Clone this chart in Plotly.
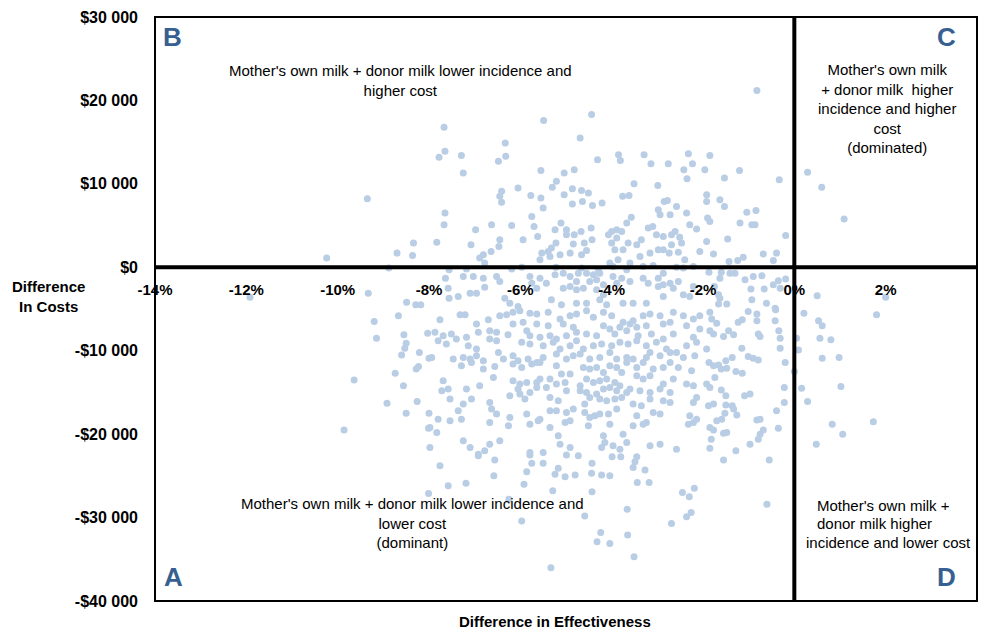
import plotly.graph_objects as go

# Difference in effectiveness (%) and difference in costs (thousand $)
pts_top = [(-7.67,16.8),(-7.65,13.9),(-7.78,13.2),(-7.29,13.4),(-6.48,12.7),(-6.33,14.9),(-6.32,13.3),(-5.49,17.6),(-4.44,18.3),(-4.69,15.5),(-4.31,12.9),(-3.85,13.5),(-3.81,12.8),(-3.29,13.5),(-3.14,12.4),(-2.76,12.4),(-2.32,13.6),(-2.23,12.4),(-0.82,21.2),(-1.85,13.4)]
pts_left = [(-9.35,8.2),(-10.24,1.1),(-8.70,1.7),(-8.34,2.9),(-8.36,1.4),(-8.88,-0.1),(-9.33,-3.1),(-11.92,-3.6),(-8.49,-4.2),(-8.29,-4.5),(-8.18,-4.5)]
pts_mid_upper = [(-7.25,11.3),(-5.55,11.6),(-5.04,11.3),(-4.82,11.7),(-2.42,11.7),(-2.35,10.6),(-7.65,6.5),(-7.67,5.1),(-7.83,3.0),(-6.41,9.1),(-6.45,8.5),(-6.41,7.8),(-6.05,9.5),(-5.77,8.6),(-5.55,8.3),(-5.21,10.3),(-5.30,9.6),(-5.04,8.7),(-4.86,9.4),(-4.66,9.2),(-4.51,8.9),(-4.86,7.6),(-4.64,7.9),(-4.42,7.4),(-4.21,7.7),(-3.76,8.5),(-3.62,8.6),(-3.51,10.0),(-2.99,9.8),(-2.85,7.9),(-2.78,8.0),(-2.58,7.3),(-2.98,6.9),(-2.72,6.3),(-2.94,6.3),(-2.36,6.5),(-2.29,5.1),(-2.14,4.6),(-3.57,6.0),(-3.67,5.3),(-5.50,7.1),(-5.75,6.1),(-5.70,4.9),(-5.62,3.7),(-5.94,3.3),(-6.19,5.0),(-6.63,5.1),(-6.98,4.5),(-7.08,2.7),(-6.45,3.3),(-6.47,2.5),(-6.64,1.9),(-6.81,1.5),(-6.89,1.1),(-6.78,0.5),(-5.24,4.5),(-5.11,5.3),(-4.99,4.5),(-4.99,3.9),(-4.82,3.9),(-4.67,4.3),(-4.45,4.7),(-4.43,3.3),(-4.60,2.9),(-4.84,2.8),(-5.22,2.9),(-5.32,2.3),(-5.39,1.9),(-5.53,1.7),(-5.57,0.9),(-5.35,1.3),(-5.13,1.5),(-4.91,1.7),(-4.66,1.5),(-4.55,2.0),(-4.00,4.3),(-4.07,3.9),(-3.89,4.5),(-3.78,4.3),(-3.89,3.5),(-4.00,2.9),(-3.93,2.1),(-3.75,2.1),(-3.64,2.9),(-3.45,2.7),(-3.35,3.3),(-3.20,4.7),(-3.10,4.9),(-3.02,3.9),(-2.87,3.7),(-2.69,3.9),(-2.61,4.3),(-2.51,3.6),(-2.47,2.9),(-2.69,2.7),(-2.74,1.7),(-2.54,1.8),(-2.87,2.1),(-2.98,2.1),(-3.16,1.7),(-3.38,1.3),(-3.60,0.5),(-3.86,0.9),(-4.04,0.5),(-2.40,0.9),(-2.21,0.1),(-2.07,1.9)]
pts_mid_axis = [(-7.56,-0.3),(-7.18,-0.2),(-6.19,-0.2),(-5.97,0.0),(-5.22,0.0),(-4.66,-0.1),(-4.29,-0.3),(-3.97,0.1),(-3.67,-0.3),(-3.31,0.1),(-3.09,0.2),(-2.87,-0.7),(-2.58,0.0),(-2.43,-0.1),(-7.64,-1.3),(-7.25,-1.1),(-7.03,-1.1),(-6.81,-1.3),(-6.52,-1.1),(-6.45,-1.7),(-6.78,-2.4),(-7.58,-2.5),(-7.10,-3.1),(-6.96,-3.1),(-7.36,-3.5),(-7.56,-3.7),(-5.79,-1.1),(-5.57,-1.3),(-5.43,-1.9),(-5.75,-1.9),(-5.64,-2.5),(-5.24,-0.9),(-5.06,-0.7),(-4.91,-1.1),(-4.73,-0.7),(-4.55,-0.7),(-4.40,-0.9),(-4.26,-0.7),(-4.48,-1.7),(-4.33,-1.5),(-4.77,-1.7),(-4.91,-2.3),(-5.06,-2.5),(-4.77,-2.7),(-4.62,-2.5),(-4.33,-2.7),(-4.18,-2.1),(-4.18,-3.3),(-3.97,-1.1),(-3.78,-1.3),(-3.60,-1.7),(-3.89,-1.9),(-3.31,-1.3),(-3.20,-1.9),(-2.98,-1.3),(-2.87,-2.1),(-2.72,-1.9),(-2.54,-1.7),(-2.98,-2.3),(-2.65,-2.5),(-2.87,-3.5),(-2.43,-3.3),(-2.29,-3.5),(-2.21,-2.3),(-6.34,-3.7),(-6.23,-4.3),(-6.05,-4.7),(-5.32,-3.9),(-5.10,-4.5),(-4.77,-4.3),(-4.55,-4.3),(-4.26,-3.9),(-4.11,-4.5),(-3.75,-4.3),(-3.53,-4.3),(-3.24,-4.3)]
pts_right_upper = [(-1.96,11.7),(-1.53,10.7),(-1.20,11.6),(-0.33,10.5),(0.29,11.4),(0.60,9.6),(1.09,5.8),(-1.92,8.7),(-1.92,7.9),(-1.63,8.1),(-1.53,7.3),(-1.04,6.6),(-0.84,6.8),(-1.90,5.9),(-1.85,5.5),(-1.19,5.3),(-0.93,5.1),(-0.86,5.1),(-0.19,3.8),(-1.46,3.4),(-1.92,3.1),(-1.77,1.6),(-0.68,1.6),(-0.39,1.7),(-1.12,1.2),(-1.24,0.8),(-1.43,0.7),(-0.46,0.8),(-1.87,-0.6),(-1.60,-0.6),(-1.63,-1.3),(-1.41,-0.7),(-1.30,-0.7),(-1.08,-1.5),(-0.90,-1.1),(-0.71,-1.0),(-0.35,-1.6),(-0.19,-1.4),(-0.46,-2.1),(-0.31,-2.5),(-1.75,-2.3),(-1.66,-3.3),(-1.63,-3.7),(-1.48,-4.4),(-1.66,-4.4),(-0.95,-2.6),(-0.66,-2.6),(-0.93,-3.9),(-0.61,-4.3),(-0.42,-4.9),(0.50,-3.4),(2.00,-3.6)]
pts_right_lower = [(0.21,-5.5),(1.80,-5.7),(0.53,-6.4),(0.61,-7.0),(0.05,-8.5),(0.56,-8.5),(0.80,-8.7),(0.09,-9.9),(0.61,-10.9),(0.98,-10.8),(0.0,-12.5),(0.16,-14.5),(1.02,-14.3),(0.29,-16.1),(0.83,-18.8),(1.73,-18.5),(1.06,-20.0),(0.48,-21.2),(-1.85,-5.4),(-1.01,-5.3),(-0.82,-5.6),(-0.41,-5.1),(-1.81,-6.2),(-1.70,-6.7),(-1.23,-6.6),(-1.14,-6.3),(-0.82,-6.4),(-0.42,-6.4),(-1.85,-7.6),(-1.77,-8.0),(-1.55,-8.3),(-1.44,-7.6),(-1.33,-8.1),(-0.79,-8.0),(-0.75,-8.3),(-0.34,-7.6),(-0.31,-8.5),(-1.92,-9.8),(-1.15,-9.7),(-0.31,-9.7),(-1.01,-10.7),(-0.90,-10.9),(-0.79,-11.1),(-1.50,-11.2),(-1.36,-10.8),(-0.20,-11.4),(-1.87,-11.4),(-1.77,-11.8),(-1.66,-11.7),(-1.60,-12.2),(-1.48,-12.1),(-1.28,-12.5),(-1.14,-12.7),(-1.74,-13.2),(-1.92,-14.0),(-1.85,-14.4),(-1.60,-14.7),(-1.50,-15.4),(-1.09,-15.4),(-0.97,-15.2),(-0.22,-14.4),(-0.22,-16.2),(-1.88,-16.6),(-1.77,-16.4),(-1.50,-16.5),(-1.36,-16.6),(-1.33,-17.0),(-1.26,-17.7),(-1.52,-17.5),(-1.59,-18.2),(-1.70,-18.4),(-0.39,-17.2),(-0.82,-18.3),(-0.75,-18.2),(-0.35,-19.3),(-0.68,-19.5),(-0.75,-20.0),(-0.79,-20.6),(-1.85,-19.2),(-1.77,-19.5),(-1.55,-19.9),(-1.48,-19.8),(-1.82,-20.6),(-1.85,-21.7),(-1.28,-22.0),(-0.97,-21.2),(-1.55,-23.1),(-0.55,-23.1),(-0.60,-28.4)]
pts_far_left_lower = [(-9.20,-6.5),(-8.67,-5.8),(-8.03,-7.9),(-9.15,-8.5),(-8.55,-8.1),(-8.50,-9.1),(-8.53,-9.7),(-8.60,-10.5),(-8.21,-10.2),(-8.00,-10.9),(-8.74,-12.7),(-8.23,-11.9),(-8.28,-12.2),(-9.64,-13.5),(-8.56,-14.2),(-8.26,-16.1),(-8.92,-16.3),(-8.50,-17.5),(-8.00,-17.5),(-8.01,-19.3),(-9.86,-19.5),(-7.98,-21.6),(-8.01,-27.1)]
pts_bottom = [(-6.92,-22.6),(-6.56,-23.1),(-7.76,-23.8),(-7.58,-26.2),(-7.19,-25.9),(-6.58,-25.0),(-5.75,-23.5),(-5.50,-23.5),(-5.86,-24.5),(-5.92,-26.0),(-5.17,-24.1),(-5.24,-24.8),(-5.02,-25.1),(-4.80,-24.9),(-4.99,-22.5),(-4.73,-22.6),(-4.43,-23.5),(-4.44,-24.7),(-4.22,-24.9),(-4.04,-25.0),(-3.99,-22.7),(-3.80,-22.7),(-3.49,-23.3),(-3.53,-24.0),(-3.27,-24.3),(-3.44,-25.8),(-3.18,-25.8),(-5.29,-26.8),(-4.43,-26.9),(-6.25,-27.8),(-4.59,-29.8),(-5.97,-30.4),(-3.66,-29.0),(-2.45,-27.0),(-2.30,-27.5),(-2.19,-26.5),(-2.26,-29.4),(-2.36,-29.9),(-2.69,-30.7),(-4.24,-31.8),(-4.32,-32.9),(-4.04,-33.1),(-3.65,-32.1),(-3.51,-34.7),(-5.33,-36.0),(-5.79,-22.5),(-3.45,-22.7)]
pts_core = [(-7.32,-5.7),(-7.21,-5.7),(-7.76,-6.3),(-6.96,-6.8),(-6.70,-6.3),(-6.45,-5.8),(-6.30,-5.7),(-6.16,-5.4),(-6.01,-5.2),(-5.79,-5.5),(-5.64,-5.6),(-5.39,-5.4),(-5.13,-6.2),(-4.91,-5.8),(-4.77,-5.6),(-4.55,-5.2),(-4.40,-6.0),(-4.18,-5.4),(-4.00,-5.8),(-3.75,-6.6),(-3.53,-6.4),(-3.31,-5.8),(-3.16,-5.6),(-2.94,-5.8),(-2.65,-5.4),(-2.43,-5.8),(-2.21,-6.2),(-2.07,-5.8),(-6.16,-6.8),(-5.94,-6.6),(-5.64,-6.8),(-5.39,-7.0),(-5.06,-6.8),(-4.84,-7.2),(-4.18,-7.0),(-4.04,-7.4),(-3.82,-7.2),(-3.60,-6.8),(-3.45,-7.2),(-3.24,-7.0),(-2.87,-6.8),(-2.72,-6.6),(-2.36,-7.0),(-2.07,-7.4),(-7.87,-7.8),(-7.69,-8.2),(-7.51,-8.0),(-7.40,-8.6),(-7.18,-8.4),(-6.92,-7.8),(-6.67,-7.6),(-6.52,-7.8),(-6.27,-8.1),(-5.86,-7.6),(-5.79,-8.2),(-5.57,-8.4),(-5.35,-8.2),(-5.21,-8.6),(-4.99,-8.2),(-4.77,-7.8),(-4.55,-8.0),(-4.33,-8.2),(-3.93,-8.0),(-3.67,-7.6),(-3.42,-8.2),(-3.13,-8.0),(-2.87,-8.6),(-2.65,-8.0),(-2.21,-8.4),(-7.80,-8.8),(-7.62,-9.2),(-7.14,-9.4),(-6.96,-9.8),(-6.67,-8.6),(-6.52,-8.8),(-5.97,-9.0),(-5.79,-9.2),(-5.50,-9.4),(-5.28,-9.0),(-5.13,-9.8),(-4.91,-9.4),(-4.77,-8.8),(-4.62,-9.8),(-4.40,-9.4),(-4.22,-9.2),(-4.00,-9.4),(-3.82,-9.0),(-3.64,-9.2),(-3.45,-8.8),(-3.24,-9.4),(-3.02,-9.0),(-2.80,-9.8),(-2.58,-10.2),(-2.36,-9.4),(-2.14,-9.0),(-7.94,-10.8),(-7.47,-11.0),(-7.25,-10.8),(-7.10,-11.0),(-6.96,-10.6),(-6.81,-11.2),(-6.48,-10.2),(-6.37,-11.0),(-6.16,-10.6),(-6.05,-11.2),(-5.83,-11.0),(-5.64,-11.4),(-5.50,-10.8),(-5.21,-10.4),(-4.99,-11.0),(-4.84,-10.6),(-4.69,-10.4),(-4.48,-11.0),(-4.26,-10.8),(-4.04,-10.2),(-3.89,-11.0),(-3.67,-10.8),(-3.53,-11.0),(-3.24,-10.8),(-3.16,-10.2),(-2.94,-10.6),(-2.72,-10.2),(-2.43,-10.8),(-2.18,-10.6),(-7.29,-11.8),(-7.07,-11.4),(-6.81,-12.2),(-6.56,-11.9),(-6.16,-11.6),(-5.97,-12.0),(-5.75,-11.6),(-5.57,-11.4),(-5.21,-11.8),(-5.10,-12.8),(-4.91,-12.8),(-4.62,-12.0),(-4.48,-12.2),(-4.33,-12.0),(-4.18,-12.6),(-4.04,-11.8),(-3.89,-12.0),(-3.78,-12.6),(-3.67,-11.4),(-3.45,-12.0),(-3.31,-11.4),(-3.09,-12.2),(-2.87,-12.0),(-2.72,-11.4),(-2.54,-12.0),(-2.25,-12.4),(-7.69,-13.6),(-7.72,-14.8),(-7.58,-14.6),(-7.18,-14.6),(-6.89,-14.2),(-6.59,-13.2),(-6.16,-13.6),(-6.01,-14.0),(-5.86,-13.8),(-5.64,-13.8),(-5.57,-13.4),(-5.35,-13.4),(-5.21,-14.0),(-5.02,-13.8),(-4.69,-14.2),(-4.55,-13.4),(-4.40,-13.8),(-4.26,-13.6),(-4.11,-13.4),(-3.93,-13.8),(-3.82,-14.2),(-3.60,-14.6),(-3.45,-13.0),(-3.31,-13.4),(-3.16,-13.0),(-2.87,-14.0),(-2.65,-13.4),(-2.36,-14.0),(-2.21,-14.2),(-6.05,-14.6),(-6.01,-15.2),(-5.64,-14.4),(-5.43,-14.4),(-4.99,-14.8),(-4.69,-14.8),(-4.55,-15.0),(-4.33,-15.2),(-4.18,-14.6),(-4.04,-14.4),(-3.89,-14.8),(-3.67,-15.0),(-3.38,-14.8),(-3.16,-15.0),(-2.94,-14.6),(-2.72,-15.0),(-2.14,-15.6),(-7.54,-15.8),(-7.07,-15.8),(-7.25,-16.4),(-6.67,-16.2),(-6.23,-15.4),(-5.90,-15.8),(-5.79,-15.0),(-5.35,-15.6),(-5.17,-16.0),(-4.59,-16.4),(-4.48,-15.6),(-4.26,-15.8),(-4.11,-16.0),(-3.93,-15.8),(-3.78,-15.6),(-3.53,-16.4),(-3.35,-16.6),(-3.16,-15.8),(-2.87,-16.0),(-2.72,-16.2),(-2.21,-16.2),(-7.36,-17.2),(-7.29,-18.2),(-6.63,-17.0),(-6.52,-17.6),(-6.23,-18.0),(-5.86,-17.6),(-5.57,-18.2),(-5.35,-17.2),(-5.21,-17.2),(-4.99,-17.4),(-4.84,-17.0),(-4.59,-17.4),(-4.48,-18.0),(-4.37,-17.8),(-4.26,-17.6),(-4.07,-17.6),(-3.89,-17.0),(-3.45,-17.8),(-3.24,-18.6),(-3.09,-17.4),(-2.94,-17.6),(-2.29,-17.8),(-2.14,-18.2),(-7.80,-18.2),(-7.54,-18.4),(-7.98,-19.2),(-7.83,-19.8),(-6.67,-18.6),(-6.26,-19.0),(-5.79,-18.8),(-5.61,-18.4),(-5.35,-19.2),(-5.02,-18.6),(-4.91,-18.4),(-4.51,-19.0),(-4.04,-18.8),(-3.53,-19.0),(-3.31,-18.8),(-2.32,-18.8),(-2.21,-18.6),(-7.25,-20.8),(-7.10,-21.6),(-6.67,-21.2),(-6.45,-20.8),(-6.78,-22.0),(-5.17,-20.2),(-5.13,-21.2),(-4.91,-21.6),(-4.18,-20.2),(-4.15,-21.0),(-3.75,-20.0),(-3.67,-21.0),(-4.22,-21.6),(-3.97,-21.4),(-3.82,-21.8),(-3.16,-21.4),(-2.94,-21.2),(-2.58,-21.8),(-6.92,-22.4),(-5.79,-22.2),(-5.50,-22.2)]

x_ticks = [-14, -12, -10, -8, -6, -4, -2, 0, 2, 4]
x_tick_labels = ["-14%", "-12%", "-10%", "-8%", "-6%", "-4%", "-2%", "0%", "2%", "4%"]
y_ticks = [30000, 20000, 10000, 0, -10000, -20000, -30000, -40000]
y_tick_labels = ["$30 000", "$20 000", "$10 000", "$0", "-$10 000", "-$20 000", "-$30 000", "-$40 000"]

groups = [pts_top, pts_left, pts_mid_upper, pts_mid_axis, pts_right_upper,
          pts_right_lower, pts_far_left_lower, pts_bottom, pts_core]
xs, ys = [], []
for g in groups:
    for px, py in g:
        xs.append(px)
        ys.append(py * 1000)

PT_COLOR = "#b9cde5"
LETTER_COLOR = "#376092"
FONT = "Liberation Sans, Arial, sans-serif"

fig = go.Figure()
fig.add_trace(go.Scatter(x=xs, y=ys, mode="markers",
                         marker=dict(size=7, color=PT_COLOR),
                         hoverinfo="skip", showlegend=False))

fig.update_layout(
    width=985, height=631,
    margin=dict(l=155, r=8, t=17, b=30),
    paper_bgcolor="white", plot_bgcolor="white",
    font=dict(family=FONT, color="black"),
)
y_zero_pos = (0 - (-40000)) / 70000
fig.update_xaxes(range=[-14, 4], tickvals=x_ticks, ticktext=x_tick_labels,
                 showgrid=False, zeroline=False, showline=False, ticks="",
                 anchor="free", position=y_zero_pos, ticklabelstandoff=12,
                 tickfont=dict(family=FONT, size=15, color="black", weight="bold"))
fig.update_yaxes(range=[-40000, 30000], tickvals=y_ticks, ticktext=y_tick_labels,
                 showgrid=False, zeroline=False, showline=False, ticks="",
                 ticklabelstandoff=16,
                 tickfont=dict(family=FONT, size=16, color="black", weight="bold"))

# quadrant lines and border
fig.add_shape(type="line", xref="x", yref="paper", x0=0, x1=0, y0=0, y1=1,
              line=dict(color="black", width=4), layer="above")
fig.add_shape(type="line", xref="paper", yref="y", x0=0, x1=1, y0=0, y1=0,
              line=dict(color="black", width=4), layer="above")
fig.add_shape(type="rect", xref="paper", yref="paper", x0=0, x1=1, y0=0, y1=1,
              line=dict(color="black", width=2), layer="above")

def px2paper_x(p):
    return (p - 155) / 822

def px2paper_y(p):
    return (601 - p) / 584

def note(text, xp, yp, font, xanchor="center", align="center"):
    fig.add_annotation(text=text, x=px2paper_x(xp), y=px2paper_y(yp), xref="paper", yref="paper",
                       showarrow=False, xanchor=xanchor, yanchor="middle", align=align, font=font)

letter_font = dict(family=FONT, size=26, color=LETTER_COLOR, weight="bold")
for t, xp, yp in [("B", 172, 37), ("C", 946, 37), ("A", 173, 577), ("D", 946, 577)]:
    note(t, xp, yp, letter_font)

txt_font = dict(family=FONT, size=15, color="black")
note("Mother's own milk + donor milk lower incidence and<br>higher cost", 400, 80, txt_font)
note("Mother's own milk<br>+ donor milk  higher<br>incidence and higher<br>cost<br>(dominated)", 887, 109, txt_font)
note("Mother's own milk + donor milk lower incidence and<br>lower cost<br>(dominant)", 412, 523, txt_font)
for line, xp, yp in [("Mother's own milk +", 815, 505), ("donor milk higher", 815, 523),
                     ("incidence and lower cost", 804, 542)]:
    note(line, xp, yp, txt_font, xanchor="left", align="left")

bold_font = dict(family=FONT, size=15, color="black", weight="bold")
note("Difference<br>In Costs", 48, 296, bold_font)
note("Difference in Effectiveness", 555, 621, bold_font)

fig.write_html("out.html", config={"displayModeBar": False},
               post_script="document.body.style.margin='0';document.body.style.overflow='hidden';")
